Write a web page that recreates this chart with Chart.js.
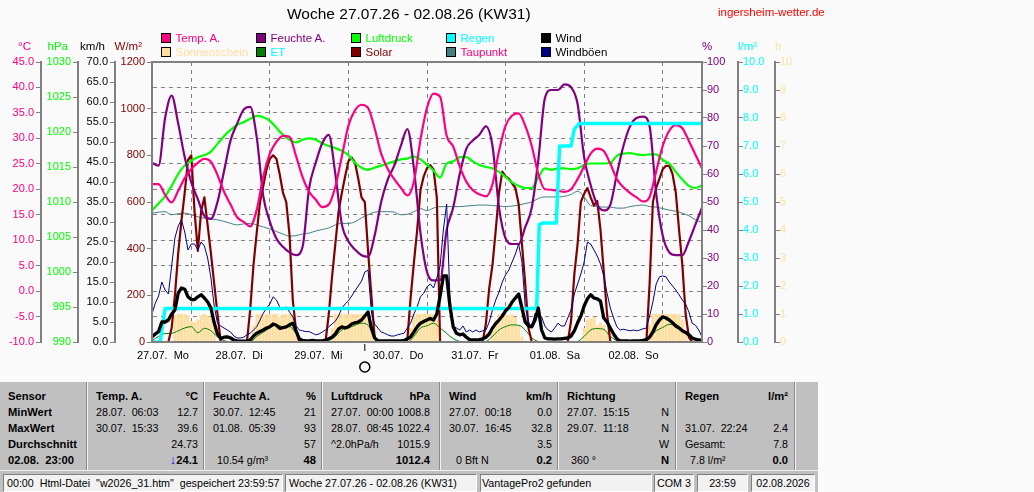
<!DOCTYPE html>
<html>
<head>
<meta charset="utf-8">
<script src="https://cdn.jsdelivr.net/npm/chart.js@4.4.0/dist/chart.umd.min.js"></script>
<style>
  body { margin:0; width:1034px; height:492px; overflow:hidden; position:relative; background:#fafafa;
         font-family:"Liberation Sans", Arial, sans-serif; color:#000; }
  #wrap { position:absolute; left:0; top:0; width:1034px; height:380px; }
  #title { position:absolute; left:287px; top:5px; font-size:15.5px; line-height:18px; white-space:nowrap; }
  #site { position:absolute; left:718px; top:5px; font-size:11.5px; line-height:14px; color:#ff0000; }
  .lg { position:absolute; display:flex; align-items:center; height:14px; font-size:11.5px; line-height:14px; white-space:nowrap; }
  .lg i { display:block; width:10px; height:10px; box-sizing:border-box; border:1px solid #000; margin-right:4.5px; }
  #tbl { position:absolute; left:0; top:382px; width:818px; height:88px; background:#c0c0c0; font-size:10.7px; }
  .c { position:absolute; top:0; height:88px; padding-top:6px; box-sizing:border-box; }
  .c.s { border-left:1px solid #f2f2f2; box-shadow:-1px 0 0 #8a8a8a; }
  .r { height:16px; line-height:16px; display:flex; justify-content:space-between; white-space:pre; }
  .b { font-weight:bold; font-size:11.2px; }
  #sb { position:absolute; left:0; top:470px; width:818px; height:22px; background:#c0c0c0; border-top:1px solid #f2f2f2; box-sizing:border-box; }
  .p { position:absolute; top:3px; height:18px; box-sizing:border-box; border:1px solid; border-color:#808080 #fff #fff #808080;
       background:#f2f2f2; font-size:10.7px; line-height:16px; white-space:pre; overflow:hidden; }
</style>
</head>
<body>
<div id="wrap"><canvas id="chart" width="1034" height="380"></canvas></div>
<div id="title">Woche 27.07.26 - 02.08.26 (KW31)</div>
<div id="site">ingersheim-wetter.de</div>
<div id="legend"></div>

<div id="tbl">
  <div class="c" style="left:0;width:87px;padding-left:8px">
    <div class="r b">Sensor</div><div class="r b">MinWert</div><div class="r b">MaxWert</div>
    <div class="r b">Durchschnitt</div><div class="r b">02.08.  23:00</div>
  </div>
  <div class="c s" style="left:87px;width:117px;padding:6px 6px 0 8px">
    <div class="r b"><span>Temp. A.</span><span>°C</span></div>
    <div class="r"><span>28.07.  06:03</span><span>12.7</span></div>
    <div class="r"><span>30.07.  15:33</span><span>39.6</span></div>
    <div class="r"><span></span><span>24.73</span></div>
    <div class="r"><span></span><span><span style="color:#0000ff;font-size:13px;font-weight:bold">↓</span><span class="b">24.1</span></span></div>
  </div>
  <div class="c s" style="left:204px;width:118px;padding:6px 6px 0 8px">
    <div class="r b"><span>Feuchte A.</span><span>%</span></div>
    <div class="r"><span>30.07.  12:45</span><span>21</span></div>
    <div class="r"><span>01.08.  05:39</span><span>93</span></div>
    <div class="r"><span></span><span>57</span></div>
    <div class="r"><span style="padding-left:4px">10.54 g/m³</span><span class="b">48</span></div>
  </div>
  <div class="c s" style="left:322px;width:118px;padding:6px 10px 0 8px">
    <div class="r b"><span>Luftdruck</span><span>hPa</span></div>
    <div class="r"><span>27.07.  00:00</span><span>1008.8</span></div>
    <div class="r"><span>28.07.  08:45</span><span>1022.4</span></div>
    <div class="r"><span>^2.0hPa/h</span><span>1015.9</span></div>
    <div class="r"><span></span><span class="b">1012.4</span></div>
  </div>
  <div class="c s" style="left:440px;width:118px;padding:6px 6px 0 8px">
    <div class="r b"><span>Wind</span><span>km/h</span></div>
    <div class="r"><span>27.07.  00:18</span><span>0.0</span></div>
    <div class="r"><span>30.07.  16:45</span><span>32.8</span></div>
    <div class="r"><span></span><span>3.5</span></div>
    <div class="r"><span style="padding-left:7px">0 Bft N</span><span class="b">0.2</span></div>
  </div>
  <div class="c s" style="left:558px;width:118px;padding:6px 7px 0 8px">
    <div class="r b"><span>Richtung</span><span></span></div>
    <div class="r"><span>27.07.  15:15</span><span>N</span></div>
    <div class="r"><span>29.07.  11:18</span><span>N</span></div>
    <div class="r"><span></span><span>W</span></div>
    <div class="r"><span style="padding-left:4px">360 °</span><span class="b">N</span></div>
  </div>
  <div class="c s" style="left:676px;width:119px;padding:6px 7px 0 8px">
    <div class="r b"><span>Regen</span><span>l/m²</span></div>
    <div class="r"><span></span><span></span></div>
    <div class="r"><span>31.07.  22:24</span><span>2.4</span></div>
    <div class="r"><span>Gesamt:</span><span>7.8</span></div>
    <div class="r"><span style="padding-left:5px">7.8 l/m²</span><span class="b">0.0</span></div>
  </div>
  <div class="c s" style="left:795px;width:23px"></div>
</div>

<div id="sb">
  <div class="p" style="left:3px;width:280px;padding-left:3px">00:00  Html-Datei  "w2026_31.htm"  gespeichert 23:59:57</div>
  <div class="p" style="left:285px;width:192px;padding-left:3px">Woche 27.07.26 - 02.08.26 (KW31)</div>
  <div class="p" style="left:480px;width:172px;padding-left:1px">VantagePro2 gefunden</div>
  <div class="p" style="left:654px;width:40px;text-align:center">COM 3</div>
  <div class="p" style="left:697px;width:51px;text-align:center">23:59</div>
  <div class="p" style="left:751px;width:64px;text-align:center">02.08.2026</div>
</div>

<script>
const FONT = '"Liberation Sans", Arial, sans-serif';

// x axis: hours since 27.07. 00:00
const dayLabels = ['27.07.  Mo', '28.07.  Di', '29.07.  Mi', '30.07.  Do', '31.07.  Fr', '01.08.  Sa', '02.08.  So'];
const moonHour = 65;

// 2-hourly series (h = 0, 2, ... 168)
const temp = [21.0, 21.0, 18.9, 17.4, 19.7, 22.2, 24.0, 25.2, 26.0, 25.4, 22.8, 19.5,
  17.0, 14.5, 13.6, 12.7, 16.0, 22.5, 27.0, 29.3, 30.5, 30.3, 26.5, 22.4,
  19.5, 18.0, 16.5, 17.0, 20.5, 26.5, 32.5, 35.5, 36.6, 36.0, 32.0, 27.0,
  24.0, 22.0, 20.3, 18.8, 21.5, 29.7, 36.0, 38.8, 38.2, 30.5, 28.4, 24.5,
  21.5, 19.8, 19.0, 18.6, 21.0, 27.5, 32.5, 34.5, 34.9, 32.5, 28.5, 23.0,
  20.0, 19.9, 19.7, 19.5, 20.0, 22.0, 24.5, 27.0, 28.0, 27.5, 25.0, 22.0,
  20.4, 19.3, 18.4, 17.6, 18.5, 23.5, 28.5, 31.5, 32.6, 32.0, 29.5, 26.8, 24.1];
const humidity = [64, 63, 80, 88, 78, 66, 57, 51, 45, 44, 50, 61,
  72, 78, 83, 84, 73, 52, 43, 37, 34, 32, 31, 34,
  55, 64, 71, 74, 60, 42, 36, 33, 31, 30.5, 38, 50,
  58, 63, 70, 76, 62, 39, 25, 22, 22, 40, 48, 60,
  69, 72, 74, 77, 70, 48, 37, 35, 35, 41, 48, 65,
  87, 90, 90, 92, 91, 85, 66, 56, 49, 47, 49, 60,
  70, 77, 80, 80.5, 77, 53, 38, 32, 31, 31, 36, 42, 48];
const pressure = [1008.8, 1009.8, 1010.8, 1012.3, 1014.0, 1015.2, 1015.9, 1016.4, 1016.7, 1017.2, 1018.3, 1019.4,
  1020.3, 1021.0, 1021.4, 1021.9, 1022.3, 1022.1, 1021.6, 1020.6, 1019.6, 1018.9, 1018.5, 1018.9,
  1019.1, 1018.9, 1018.4, 1018.0, 1017.7, 1017.3, 1016.7, 1015.6, 1014.9, 1014.6, 1014.9, 1015.2,
  1015.5, 1015.8, 1016.1, 1016.2, 1016.5, 1016.1, 1015.3, 1014.5, 1013.5, 1015.5, 1015.8, 1016.4,
  1016.4, 1015.8, 1015.3, 1015.0, 1014.8, 1014.3, 1013.6, 1012.8, 1012.3, 1012.0, 1012.0, 1013.5,
  1014.8, 1014.6, 1014.8, 1014.8, 1014.7, 1014.8, 1015.3, 1015.5, 1015.5, 1015.5, 1015.6, 1016.6,
  1016.9, 1017.0, 1016.8, 1016.7, 1016.8, 1016.8, 1016.0, 1015.5, 1014.3, 1013.2, 1012.3, 1012.0, 1012.4];
const dewpoint = [15.3, 15.5, 15.6, 15.0, 15.2, 15.3, 15.0, 14.6, 14.3, 14.2, 14.0, 13.7,
  13.3, 13.0, 13.2, 13.3, 13.0, 12.6, 12.2, 11.7, 11.2, 10.8, 10.9, 11.2,
  11.4, 11.8, 12.1, 12.4, 13.0, 13.3, 13.3, 13.6, 14.4, 15.0, 15.5, 15.6,
  15.6, 15.5, 15.0, 15.1, 15.6, 16.2, 15.8, 16.3, 16.6, 16.6, 16.6, 16.6,
  16.7, 16.8, 16.9, 16.9, 16.8, 16.7, 16.6, 16.7, 16.9, 17.2, 17.5, 18.2,
  18.5, 18.5, 18.5, 18.6, 19.0, 19.6, 18.5, 16.8, 16.6, 16.5, 16.5, 16.3,
  16.3, 16.6, 16.8, 16.9, 16.6, 16.5, 16.2, 15.9, 15.7, 15.3, 14.8, 14.0, 13.5];
const et = [0.05, 0.2, 0.3, 0.31, 0.4, 0.5, 0.55, 0.33, 0.49, 0.4, 0.18, 0.05,
  0, 0, 0, 0, 0.2, 0.35, 0.5, 0.61, 0.55, 0.55, 0.3, 0.05,
  0, 0, 0, 0.05, 0.2, 0.43, 0.5, 0.6, 0.67, 0.6, 0.2, 0.02,
  0, 0, 0, 0, 0.2, 0.5, 0.58, 0.67, 0.5, 0.31, 0.12, 0.02,
  0, 0, 0, 0.02, 0.2, 0.43, 0.55, 0.61, 0.6, 0.43, 0.15, 0.02,
  0, 0, 0, 0, 0, 0.02, 0.2, 0.43, 0.48, 0.45, 0.2, 0.05,
  0, 0, 0, 0, 0.2, 0.4, 0.52, 0.63, 0.62, 0.43, 0.25, 0.1, 0.02];

// hourly series (h = 0 ... 168)
const solar = [
  0, 0, 0, 0, 0, 0, 60, 200, 380, 520, 640, 780, 800, 560, 390, 560, 620, 500, 380, 250, 120, 0, 0, 0,
  0, 0, 0, 0, 0, 0, 140, 330, 470, 600, 670, 740, 785, 800, 785, 720, 640, 600, 460, 180, 50, 0, 0, 0,
  0, 0, 0, 0, 0, 0, 120, 280, 420, 560, 640, 710, 775, 790, 770, 700, 620, 600, 390, 200, 20, 0, 0, 0,
  0, 0, 0, 0, 0, 0, 10, 190, 340, 480, 650, 710, 745, 758, 740, 620, 0, 0, 0, 0, 0, 0, 0, 0,
  0, 0, 0, 0, 0, 0, 80, 230, 330, 480, 640, 730, 710, 700, 680, 660, 590, 420, 250, 60, 0, 0, 0, 0,
  0, 0, 0, 0, 0, 0, 0, 0, 90, 290, 420, 600, 635, 660, 620, 585, 605, 480, 300, 120, 0, 0, 0, 0,
  0, 0, 0, 0, 0, 0, 0, 0, 250, 600, 660, 700, 740, 755, 755, 720, 640, 480, 330, 120, 20, 0, 0, 0, 0];
const wind = [
  1.3, 2.0, 2.6, 5.0, 5.0, 5.5, 7.0, 8.0, 12.2, 13.5, 13.2, 11.3, 10.6, 10.6, 11.3, 11.8, 11.0, 10.0, 8.5, 4.8, 2.0, 0.9, 1.2, 1.3,
  1.0, 0.5, 0.3, 0.2, 0.2, 0.3, 0.5, 1.5, 2.2, 2.6, 3.0, 3.5, 3.8, 4.5, 4.2, 3.4, 3.6, 3.8, 4.3, 4.7, 2.8, 0.8, 0.4, 0.3,
  0.3, 0.4, 0.3, 0.3, 0.3, 0.5, 0.8, 1.2, 2.0, 3.3, 3.8, 3.5, 3.8, 4.5, 4.8, 5.0, 5.5, 6.5, 7.5, 3.5, 1.0, 0.3, 0.3, 0.3,
  0.3, 0.3, 0.3, 0.3, 0.3, 0.4, 0.8, 1.3, 2.5, 3.8, 4.7, 5.1, 5.5, 5.9, 5.5, 7.0, 11.5, 16.5, 16.5, 9.0, 3.8, 2.2, 1.8, 2.0,
  1.2, 0.6, 0.5, 0.5, 0.6, 0.8, 1.2, 2.0, 3.5, 4.6, 5.5, 6.5, 7.8, 8.6, 10.0, 11.0, 12.0, 8.5, 5.0, 4.0, 3.8, 5.5, 8.5, 3.0,
  1.0, 0.8, 0.8, 0.7, 0.8, 0.8, 0.9, 1.0, 1.5, 2.8, 4.8, 6.5, 9.0, 10.8, 11.8, 11.0, 10.8, 10.2, 6.0, 5.0, 3.5, 2.0, 0.8, 0.3,
  0.3, 0.3, 0.2, 0.3, 0.3, 0.3, 0.4, 0.6, 1.2, 2.5, 4.3, 5.5, 6.3, 6.0, 5.5, 4.8, 4.0, 3.5, 2.8, 2.4, 1.8, 1.0, 0.7, 0.5, 0.4];
const gusts = [
  7.0, 9.7, 11.5, 15.0, 13.0, 12.0, 19.0, 26.0, 29.0, 30.5, 27.5, 23.0, 24.5, 24.5, 23.0, 25.0, 24.0, 21.0, 16.0, 9.0, 4.7, 4.0, 3.5, 3.0,
  2.5, 1.5, 1.0, 1.0, 1.2, 1.8, 2.2, 3.0, 3.8, 5.5, 7.2, 8.5, 9.5, 11.3, 10.5, 8.8, 8.0, 8.8, 7.5, 6.3, 4.0, 3.0, 2.8, 2.6,
  2.6, 2.2, 1.8, 2.0, 2.5, 3.0, 3.8, 4.5, 5.2, 6.5, 8.5, 9.5, 10.3, 11.5, 12.8, 14.0, 15.2, 17.5, 18.0, 7.5, 4.5, 3.5, 2.5, 2.2,
  1.8, 1.5, 1.5, 1.8, 2.0, 2.2, 3.5, 4.7, 7.0, 8.8, 11.3, 12.2, 13.8, 14.5, 13.5, 16.0, 19.0, 28.0, 34.5, 11.0, 4.0, 3.5, 3.0, 4.0,
  2.5, 3.0, 2.5, 3.0, 2.5, 2.8, 3.0, 5.0, 8.0, 10.5, 12.5, 15.0, 16.8, 18.0, 20.0, 22.0, 24.5, 20.0, 9.0, 5.0, 3.8, 7.2, 6.5, 6.3,
  4.0, 3.0, 2.5, 3.5, 4.7, 4.0, 4.0, 6.0, 8.0, 12.0, 14.5, 17.0, 20.0, 25.0, 24.5, 23.0, 21.5, 19.5, 16.5, 12.2, 8.5, 6.0, 3.8, 3.0,
  3.2, 3.0, 2.8, 3.0, 2.8, 3.0, 3.3, 3.5, 6.5, 10.0, 14.5, 16.3, 16.5, 16.3, 15.0, 14.0, 13.0, 11.8, 10.5, 9.5, 7.5, 4.7, 4.2, 3.0, 1.3];
const sunshine = [
  0, 0, 0, 0, 0, 0, 0, 0.95, 1, 1, 1, 0.95, 0.75, 0.7, 0.8, 0.95, 1, 0.95, 0.9, 0.6, 0, 0, 0, 0,
  0, 0, 0, 0, 0, 0, 0, 0.6, 1, 1, 0.95, 1, 1, 1, 1, 0.9, 1, 1, 1, 1, 0.4, 0, 0, 0,
  0, 0, 0, 0, 0, 0, 0, 0.5, 1, 1, 1, 1, 1, 1, 1, 1, 1, 1, 1, 0.6, 0, 0, 0, 0,
  0, 0, 0, 0, 0, 0, 0, 0.5, 1, 1, 1, 1, 1, 1, 1, 0.8, 0, 0, 0, 0, 0, 0, 0, 0,
  0, 0, 0, 0, 0, 0, 0, 0, 0.4, 0.8, 1, 0.9, 1, 0.95, 1, 0.9, 0.6, 0.2, 0, 0, 0, 0, 0, 0,
  0, 0, 0, 0, 0, 0, 0, 0, 0, 0, 0, 0, 0.5, 0.8, 0.85, 0.9, 0.6, 0.7, 0.6, 0.4, 0, 0, 0, 0,
  0, 0, 0, 0, 0, 0, 0, 0, 0.6, 1, 1, 1, 1, 1, 1, 1, 1, 1, 0.8, 0.3, 0, 0, 0, 0, 0];

// cumulative rain (hour, l/m²)
const rainHours = [0, 2.5, 4, 117.5, 118.3, 119.5, 123.5, 124.5, 128, 129, 130.5, 168];
const rainTotal = [0, 0, 1.2, 1.2, 4.2, 4.25, 4.25, 7.0, 7.0, 7.6, 7.8, 7.8];

// legend
const legendNames = ['Temp. A.', 'Feuchte A.', 'Luftdruck', 'Regen', 'Wind', 'Sonnenschein', 'ET', 'Solar', 'Taupunkt', 'Windböen'];
const legendBox = ['#ff0080', '#800080', '#00ff00', '#00ffff', '#000000', '#ffe0a0', '#008000', '#800000', '#408080', '#000080'];
const legendInk = ['#ff0080', '#800080', '#00ff00', '#00ffff', '#000000', '#ffe0a0', '#00ffff', '#800000', '#ff0080', '#000000'];

const lg = document.getElementById('legend');
legendNames.forEach((name, i) => {
  const d = document.createElement('div');
  d.className = 'lg';
  d.style.left = (161 + (i % 5) * 95) + 'px';
  d.style.top = (31 + Math.floor(i / 5) * 14.3) + 'px';
  d.style.color = legendInk[i];
  d.innerHTML = '<i style="background:' + legendBox[i] + '"></i>' + name;
  lg.appendChild(d);
});

const at = (arr, step) => arr.map((y, i) => ({ x: i * step, y }));

// unit captions above each axis
const units = [
  ['yT', '°C', '#ff0080'], ['yP', 'hPa', '#00ff00'], ['yW', 'km/h', '#000000'], ['yS', 'W/m²', '#800000'],
  ['yH', '%', '#800080'], ['yR', 'l/m²', '#00ffff'], ['ySun', 'h', '#ffe0a0']
];

const extras = {
  id: 'extras',
  afterDraw(chart) {
    const ctx = chart.ctx, a = chart.chartArea;
    ctx.save();
    ctx.font = '11.5px ' + FONT;
    units.forEach(([id, txt, col]) => {
      const s = chart.scales[id];
      ctx.fillStyle = col;
      if (s.position === 'left') { ctx.textAlign = 'right'; ctx.fillText(txt, s.right - 10, 50); }
      else { ctx.textAlign = 'left'; ctx.fillText(txt, s.left, 50); }
    });
    // plot frame
    ctx.strokeStyle = '#808080';
    ctx.lineWidth = 2;
    ctx.strokeRect(a.left, a.top, a.right - a.left, a.bottom - a.top);
    // full moon mark
    const mx = chart.scales.x.getPixelForValue(moonHour);
    ctx.strokeStyle = '#000';
    ctx.lineWidth = 1;
    ctx.beginPath();
    ctx.moveTo(mx, a.bottom + 2); ctx.lineTo(mx, a.bottom + 9);
    ctx.stroke();
    ctx.lineWidth = 1.5;
    ctx.beginPath();
    ctx.arc(mx, a.bottom + 25, 5, 0, Math.PI * 2);
    ctx.stroke();
    ctx.restore();
  }
};

function yAxis(pos, weight, min, max, step, color, width, digits, pad) {
  return {
    type: 'linear', position: pos, weight, min, max,
    afterFit: s => { s.width = width; },
    border: { display: true, color: '#808080', width: 2 },
    grid: { display: true, drawOnChartArea: false, drawTicks: true, tickLength: 5, color: '#808080', lineWidth: 1 },
    ticks: { stepSize: step, autoSkip: false, color, padding: pad, font: { size: 11, family: FONT },
             callback: v => Number(v).toFixed(digits) }
  };
}

const scales = {
  x: {
    type: 'linear', min: 0, max: 168, offset: false,
    afterFit: s => { s.height = 20; },
    border: { display: true, color: '#808080', width: 2, dash: [4, 4] },
    grid: { color: '#808080', lineWidth: 1, drawTicks: false },
    ticks: { stepSize: 24, autoSkip: false, maxRotation: 0, align: 'start', labelOffset: -15, padding: 7,
             color: '#000', font: { size: 11, family: FONT }, callback: v => dayLabels[v / 24] || '' }
  },
  yT: yAxis('left', 4, -10, 45, 5, '#ff0080', 41, 1, 2),
  yP: yAxis('left', 3, 990, 1030, 5, '#00ff00', 37, 0, 2),
  yW: yAxis('left', 2, 0, 70, 5, '#000000', 37, 1, 2),
  yS: yAxis('left', 1, 0, 1200, 200, '#800000', 37, 0, 2),
  yH: yAxis('right', 1, 0, 100, 10, '#800080', 36, 0, 0),
  yR: yAxis('right', 2, 0, 10, 1, '#00ffff', 37, 1, 0),
  ySun: yAxis('right', 3, 0, 10, 1, '#ffe0a0', 37, 0, 0)
};
scales.yT.grid.drawOnChartArea = true;
scales.yT.border.dash = [4, 4];

const line = (label, data, axis, color, width, order, smooth) => ({
  type: 'line', label, data, yAxisID: axis, borderColor: color, backgroundColor: color,
  borderWidth: width, pointRadius: 0, fill: false, order,
  tension: smooth ? 0.4 : 0, cubicInterpolationMode: smooth ? 'monotone' : 'default',
  borderJoinStyle: 'round'
});

new Chart(document.getElementById('chart'), {
  type: 'line',
  data: {
    datasets: [
      line('Wind', at(wind, 1), 'yW', '#000000', 3.3, 0, false),
      line('Regen', rainHours.map((h, i) => ({ x: h, y: rainTotal[i] })), 'yR', '#00ffff', 3.5, 1, false),
      line('Windböen', at(gusts, 1), 'yW', '#000080', 1, 2, false),
      line('Temp. A.', at(temp, 2), 'yT', '#ff0080', 2.2, 3, true),
      line('Feuchte A.', at(humidity, 2), 'yH', '#800080', 2.2, 4, true),
      line('Luftdruck', at(pressure, 2), 'yP', '#00ff00', 2.2, 5, true),
      line('Solar', at(solar, 1), 'yS', '#800000', 2.2, 6, false),
      line('Taupunkt', at(dewpoint, 2), 'yT', '#408080', 1, 7, true),
      line('ET', at(et, 2), 'yR', '#008000', 1, 8, true),
      { type: 'bar', label: 'Sonnenschein', data: at(sunshine, 1), yAxisID: 'ySun', backgroundColor: '#ffdfa0',
        borderWidth: 0, barPercentage: 0.9, categoryPercentage: 1, order: 9 }
    ]
  },
  options: {
    responsive: false,
    animation: false,
    events: [],
    layout: { padding: { top: 62, left: 0, right: 222, bottom: 18 } },
    plugins: { legend: { display: false }, tooltip: { enabled: false }, title: { display: false } },
    scales
  },
  plugins: [extras]
});
</script>
</body>
</html>
